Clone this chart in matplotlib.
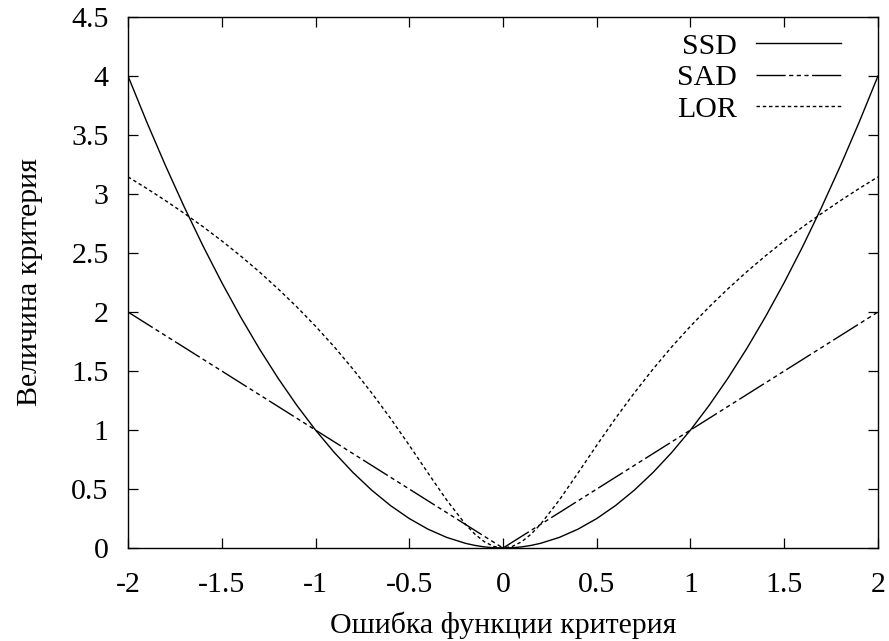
import matplotlib
matplotlib.use('Agg')
import matplotlib.pyplot as plt

# error values (x) and criterion values
err = [-2.0, -1.9, -1.8, -1.7, -1.6, -1.5, -1.4, -1.3, -1.2, -1.1, -1.0,
       -0.9, -0.8, -0.7, -0.6, -0.5, -0.4, -0.3, -0.2, -0.15, -0.1, -0.05,
       0.0, 0.05, 0.1, 0.15, 0.2, 0.3, 0.4, 0.5, 0.6, 0.7, 0.8, 0.9, 1.0,
       1.1, 1.2, 1.3, 1.4, 1.5, 1.6, 1.7, 1.8, 1.9, 2.0]

ssd = [4.0, 3.61, 3.24, 2.89, 2.56, 2.25, 1.96, 1.69, 1.44, 1.21, 1.0,
       0.81, 0.64, 0.49, 0.36, 0.25, 0.16, 0.09, 0.04, 0.0225, 0.01, 0.0025,
       0.0, 0.0025, 0.01, 0.0225, 0.04, 0.09, 0.16, 0.25, 0.36, 0.49, 0.64, 0.81, 1.0,
       1.21, 1.44, 1.69, 1.96, 2.25, 2.56, 2.89, 3.24, 3.61, 4.0]

sad = [2.0, 1.9, 1.8, 1.7, 1.6, 1.5, 1.4, 1.3, 1.2, 1.1, 1.0,
       0.9, 0.8, 0.7, 0.6, 0.5, 0.4, 0.3, 0.2, 0.15, 0.1, 0.05,
       0.0, 0.05, 0.1, 0.15, 0.2, 0.3, 0.4, 0.5, 0.6, 0.7, 0.8, 0.9, 1.0,
       1.1, 1.2, 1.3, 1.4, 1.5, 1.6, 1.7, 1.8, 1.9, 2.0]

lor = [3.145, 3.047, 2.944, 2.836, 2.723, 2.603, 2.476, 2.341, 2.197, 2.044, 1.880,
       1.705, 1.516, 1.314, 1.099, 0.871, 0.636, 0.406, 0.201, 0.118, 0.054, 0.014,
       0.0, 0.014, 0.054, 0.118, 0.201, 0.406, 0.636, 0.871, 1.099, 1.314, 1.516, 1.705, 1.880,
       2.044, 2.197, 2.341, 2.476, 2.603, 2.723, 2.836, 2.944, 3.047, 3.145]

xticks = [-2, -1.5, -1, -0.5, 0, 0.5, 1, 1.5, 2]
xlabels = ['-2', '-1.5', '-1', '-0.5', '0', '0.5', '1', '1.5', '2']
yticks = [0, 0.5, 1, 1.5, 2, 2.5, 3, 3.5, 4, 4.5]
ylabels = ['0', '0.5', '1', '1.5', '2', '2.5', '3', '3.5', '4', '4.5']

plt.rcParams['font.family'] = ['Liberation Serif', 'DejaVu Serif']
fs = 21.5

fig = plt.figure(figsize=(8.89, 6.41), dpi=100)
ax = fig.add_axes([0.144, 0.145, 0.8436, 0.8285])

ax.plot(err, ssd, color='black', linewidth=1.0, linestyle='-', label='SSD')
ax.plot(err, sad, color='black', linewidth=1.0,
        dashes=(21, 2.5, 3, 2.5, 3, 2.5, 3, 2.5), label='SAD')
ax.plot(err, lor, color='black', linewidth=1.0, dashes=(2.5, 2), label='LOR')

ax.set_xlim(-2, 2)
ax.set_ylim(0, 4.5)
ax.set_xticks(xticks)
ax.set_xticklabels(xlabels)
ax.set_yticks(yticks)
ax.set_yticklabels(ylabels)
ax.tick_params(direction='in', length=7, width=0.9, top=True, right=True,
               labelsize=fs, colors='black')
ax.tick_params(axis='x', pad=17)
ax.tick_params(axis='y', pad=14)
for s in ax.spines.values():
    s.set_linewidth(1.0)

ax.set_xlabel('Ошибка функции критерия', fontsize=fs, labelpad=10)
ax.set_ylabel('Величина критерия', fontsize=fs, labelpad=20)

leg = ax.legend(loc='upper right', bbox_to_anchor=(0.951, 0.97),
                frameon=False, markerfirst=False, fontsize=fs,
                handlelength=2.85, handletextpad=0.65, labelspacing=0.15,
                borderaxespad=0, borderpad=0)

fig.savefig('out.png', dpi=100)
